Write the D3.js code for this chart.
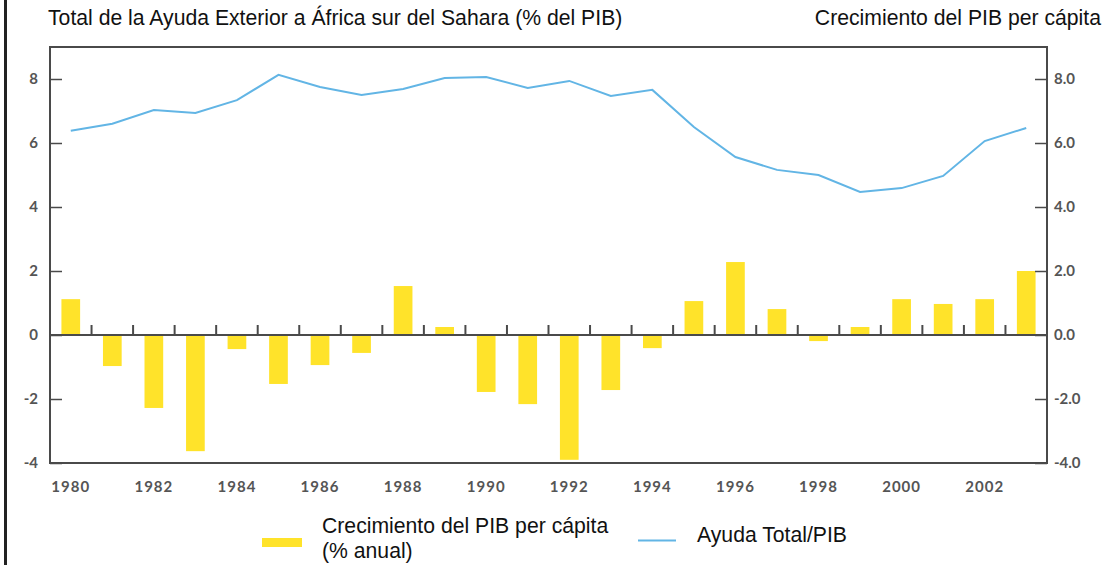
<!DOCTYPE html>
<html>
<head>
<meta charset="utf-8">
<script src="https://cdn.jsdelivr.net/npm/d3@7"></script>
<style>
  body { margin: 0; background: #fff; }
  .tick text { font-family: Lato, "DejaVu Sans", sans-serif; font-weight: bold; fill: #555; }
  .ttl { font-family: "Liberation Sans", Arial, sans-serif; font-size: 21.2px; fill: #111; }
</style>
</head>
<body>
<svg id="chart" width="1110" height="565"></svg>
<script>
// years on the x axis
var years = [1980,1981,1982,1983,1984,1985,1986,1987,1988,1989,1990,1991,
             1992,1993,1994,1995,1996,1997,1998,1999,2000,2001,2002,2003];
// ayuda total / PIB (%)
var ayuda = [6.38,6.6,7.03,6.94,7.34,8.13,7.75,7.5,7.69,8.03,8.06,7.72,
             7.94,7.47,7.66,6.5,5.56,5.16,5.0,4.47,4.59,4.97,6.06,6.47];
// crecimiento del PIB per capita (% anual)
var crecimiento = [1.12,-0.97,-2.28,-3.63,-0.44,-1.53,-0.94,-0.56,1.53,0.25,-1.78,-2.16,
                   -3.9,-1.72,-0.41,1.06,2.28,0.81,-0.19,0.25,1.12,0.97,1.12,2.0];
var yTicks = [-4,-2,0,2,4,6,8];
var yearLabels = [1980,1982,1984,1986,1988,1990,1992,1994,1996,1998,2000,2002];

var svg = d3.select("#chart");

// plot frame
var pLeft = 50, pRight = 1047, pTop = 47, pBottom = 463;

var x = d3.scaleBand().domain(years).range([pLeft, pRight]).paddingInner(0.55).paddingOuter(0.275);
var y = d3.scaleLinear().domain([-4, 9]).range([pBottom, pTop]);

var barColor = "#ffe32a", lineColor = "#62b5e5", axisColor = "#4a4a4a";

// plain hyphen for negatives, like the original
var loc = d3.formatLocale({decimal: ".", thousands: ",", grouping: [3], currency: ["", ""], minus: "-"});

// black border on the left edge
svg.append("rect").attr("x", 4).attr("y", 0).attr("width", 3).attr("height", 565).attr("fill", "#222");

// titles
svg.append("text").attr("class", "ttl").attr("x", 48).attr("y", 25)
  .text("Total de la Ayuda Exterior a África sur del Sahara (% del PIB)");
svg.append("text").attr("class", "ttl").attr("x", 1101).attr("y", 25).attr("text-anchor", "end")
  .text("Crecimiento del PIB per cápita");

// bars
svg.append("g").selectAll("rect").data(crecimiento).join("rect")
  .attr("x", (d, i) => x(years[i]))
  .attr("width", x.bandwidth())
  .attr("y", d => y(Math.max(0, d)))
  .attr("height", d => Math.abs(y(d) - y(0)))
  .attr("fill", barColor);

// frame
svg.append("rect").attr("x", pLeft).attr("y", pTop).attr("width", pRight - pLeft).attr("height", pBottom - pTop)
  .attr("fill", "none").attr("stroke", axisColor).attr("stroke-width", 2);

// left axis
var gl = svg.append("g").attr("transform", "translate(" + pLeft + ",0)")
  .call(d3.axisLeft(y).tickValues(yTicks).tickSizeInner(-12).tickSizeOuter(0).tickPadding(12).tickFormat(loc.format("d")));
gl.select(".domain").remove();
gl.selectAll(".tick line").attr("stroke", axisColor).attr("stroke-width", 1.5);
gl.selectAll(".tick text").style("font-size", "15px");

// right axis
var gr = svg.append("g").attr("transform", "translate(" + pRight + ",0)")
  .call(d3.axisRight(y).tickValues(yTicks).tickSizeInner(-12).tickSizeOuter(0).tickPadding(7).tickFormat(loc.format(".1f")));
gr.select(".domain").remove();
gr.selectAll(".tick line").attr("stroke", axisColor).attr("stroke-width", 1.5);
gr.selectAll(".tick text").style("font-size", "15px");

// zero line with year separators
svg.append("line").attr("x1", pLeft).attr("x2", pRight).attr("y1", y(0)).attr("y2", y(0))
  .attr("stroke", axisColor).attr("stroke-width", 2);
svg.append("g").selectAll("line").data(years.slice(1)).join("line")
  .attr("x1", d => x(d) - x.step() * x.paddingInner() / 2)
  .attr("x2", d => x(d) - x.step() * x.paddingInner() / 2)
  .attr("y1", y(0)).attr("y2", y(0) - 10)
  .attr("stroke", axisColor).attr("stroke-width", 2);

// year labels
var gx = svg.append("g").attr("transform", "translate(0," + pBottom + ")")
  .call(d3.axisBottom(x).tickValues(yearLabels).tickSize(0).tickPadding(18));
gx.select(".domain").remove();
gx.selectAll(".tick text").style("font-size", "15px").style("letter-spacing", "1px");

// aid line
var line = d3.line().x((d, i) => x(years[i]) + x.bandwidth() / 2).y(d => y(d));
svg.append("path").datum(ayuda).attr("d", line)
  .attr("fill", "none").attr("stroke", lineColor).attr("stroke-width", 2);

// legend
var lg = svg.append("g");
lg.append("rect").attr("x", 262).attr("y", 538).attr("width", 40).attr("height", 9).attr("fill", barColor);
lg.append("text").attr("class", "ttl").attr("x", 322).attr("y", 533).text("Crecimiento del PIB per cápita");
lg.append("text").attr("class", "ttl").attr("x", 322).attr("y", 558).text("(% anual)");
lg.append("line").attr("x1", 638).attr("x2", 676).attr("y1", 540.5).attr("y2", 540.5)
  .attr("stroke", lineColor).attr("stroke-width", 2);
lg.append("text").attr("class", "ttl").attr("x", 697).attr("y", 542).text("Ayuda Total/PIB");
</script>
</body>
</html>
